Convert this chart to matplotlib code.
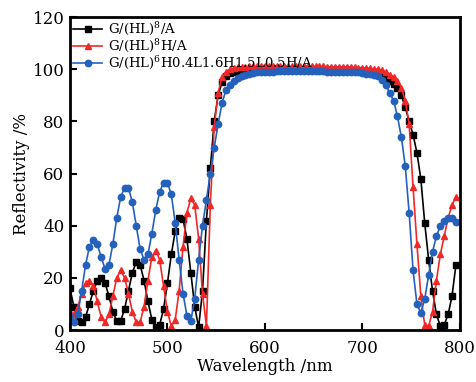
import matplotlib
matplotlib.use("Agg")
import matplotlib.pyplot as plt

plt.rcParams['font.family'] = ['DejaVu Serif']
plt.rcParams['mathtext.fontset'] = 'dejavuserif'

wavelength = list(range(400, 800, 4))  # 100 points, 400..796

black_R = [16, 9, 3.5, 3, 5, 10, 15, 19, 20, 18,                       # 400-436
           13, 7, 3.5, 3.5, 8, 15, 22, 26, 25, 19,                      # 440-476
           11, 4, 1, 2, 8, 18, 29, 38, 43, 42.5,                        # 480-516
           35, 22, 9, 1, 15, 42, 62, 80, 90, 95,                        # 520-556
           97.5, 98.5, 99, 99.2, 99.4, 99.5, 99.5, 99.6, 99.6, 99.7,    # 560-596
           99.7, 99.7, 99.7, 99.8, 99.8, 99.8, 99.8, 99.8, 99.8, 99.8,  # 600-636
           99.8, 99.8, 99.8, 99.8, 99.7, 99.7, 99.7, 99.7, 99.6, 99.6,  # 640-676
           99.6, 99.5, 99.5, 99.4, 99.3, 99.2, 99.0, 98.8, 98.5, 98,    # 680-716
           97.5, 96.5, 95.5, 94.5, 93, 90, 85.5, 80, 75, 68,            # 720-756
           58, 41, 27, 15, 6, 1.5, 2, 6, 13, 25]                        # 760-796

red_R = [7, 6, 9, 14, 18, 19, 17, 11, 5, 3,                             # 400-436
         6, 13, 20, 23, 20, 14, 7, 3, 3, 9,                             # 440-476
         19, 28, 30.5, 27, 17, 7, 1.5, 4, 15, 32,                       # 480-516
         45, 50.5, 48, 35, 14, 1.5, 48, 78, 91, 97,                     # 520-556
         99, 100, 100.5, 100.8, 101, 101, 101.1, 101.1, 101.2, 101.2,   # 560-596
         101.2, 101.2, 101.2, 101.2, 101.2, 101.2, 101.2, 101.2, 101.2, 101.2,  # 600-636
         101.2, 101.2, 101.1, 101.1, 101.1, 101.1, 101, 101, 101, 101,  # 640-676
         101, 101, 100.9, 100.8, 100.7, 100.6, 100.5, 100.4, 100.2, 100,  # 680-716
         99.8, 99, 98, 97, 95.5, 93, 88, 79, 55, 33,                    # 720-756
         13, 2, 1.5, 7, 19, 29, 36, 43, 48, 51]                         # 760-796

blue_R = [5, 3, 6, 15, 25, 32, 34.5, 33, 28, 23.5,                      # 400-436
          25, 33, 43, 51, 54.5, 54.5, 49, 40, 31, 27,                   # 440-476
          29, 37, 46, 53, 56.5, 56.5, 52, 41, 27, 14,                   # 480-516
          5.5, 3.5, 12, 27, 40, 50, 60, 70, 79, 87,                     # 520-556
          92, 94, 95.5, 96.5, 97.3, 97.8, 98.2, 98.5, 98.8, 99,         # 560-596
          99, 99.1, 99.1, 99.2, 99.2, 99.2, 99.2, 99.2, 99.2, 99.2,     # 600-636
          99.2, 99.2, 99.2, 99.2, 99.2, 99.2, 99.1, 99.1, 99.1, 99.1,   # 640-676
          99.1, 99, 99, 98.9, 98.8, 98.6, 98.4, 98.1, 97.8, 97.4,       # 680-716
          96, 94, 91, 88, 82, 74, 63, 45, 23, 10,                       # 720-756
          6.5, 12, 21, 30, 36, 40, 42, 43, 42.8, 41.5]                  # 760-796

labels = [r'G/(HL)$^8$/A', r'G/(HL)$^8$H/A', r'G/(HL)$^6$H0.4L1.6H1.5L0.5H/A']

fig = plt.figure(figsize=(4.76, 3.82), dpi=100)
ax = fig.add_axes([0.147, 0.136, 0.819, 0.819])

ax.plot(wavelength, black_R, '-s', color='black', lw=1.2, ms=3.8, label=labels[0])
ax.plot(wavelength, red_R, '-^', color='#f02828', lw=1.2, ms=4.6, label=labels[1])
ax.plot(wavelength, blue_R, '-o', color='#2461bd', lw=1.2, ms=4.6, label=labels[2])

ax.set_xlim(400, 800)
ax.set_ylim(0, 120)
ax.set_xticks([400, 500, 600, 700, 800])
ax.set_yticks([0, 20, 40, 60, 80, 100, 120])
ax.tick_params(direction='in', length=5, width=1.5, labelsize=12)
ax.tick_params(axis='x', pad=7)
ax.tick_params(axis='y', pad=4)
for s in ax.spines.values():
    s.set_linewidth(2)
ax.set_xlabel('Wavelength /nm', fontsize=12, labelpad=1)
ax.set_ylabel('Reflectivity /%', fontsize=12, labelpad=2)

leg = ax.legend(loc='upper left', frameon=False, fontsize=9.5, handlelength=2.2,
                handletextpad=0.4, labelspacing=0.0, borderaxespad=0.1,
                borderpad=0.15)

fig.savefig('out.png', dpi=100)
